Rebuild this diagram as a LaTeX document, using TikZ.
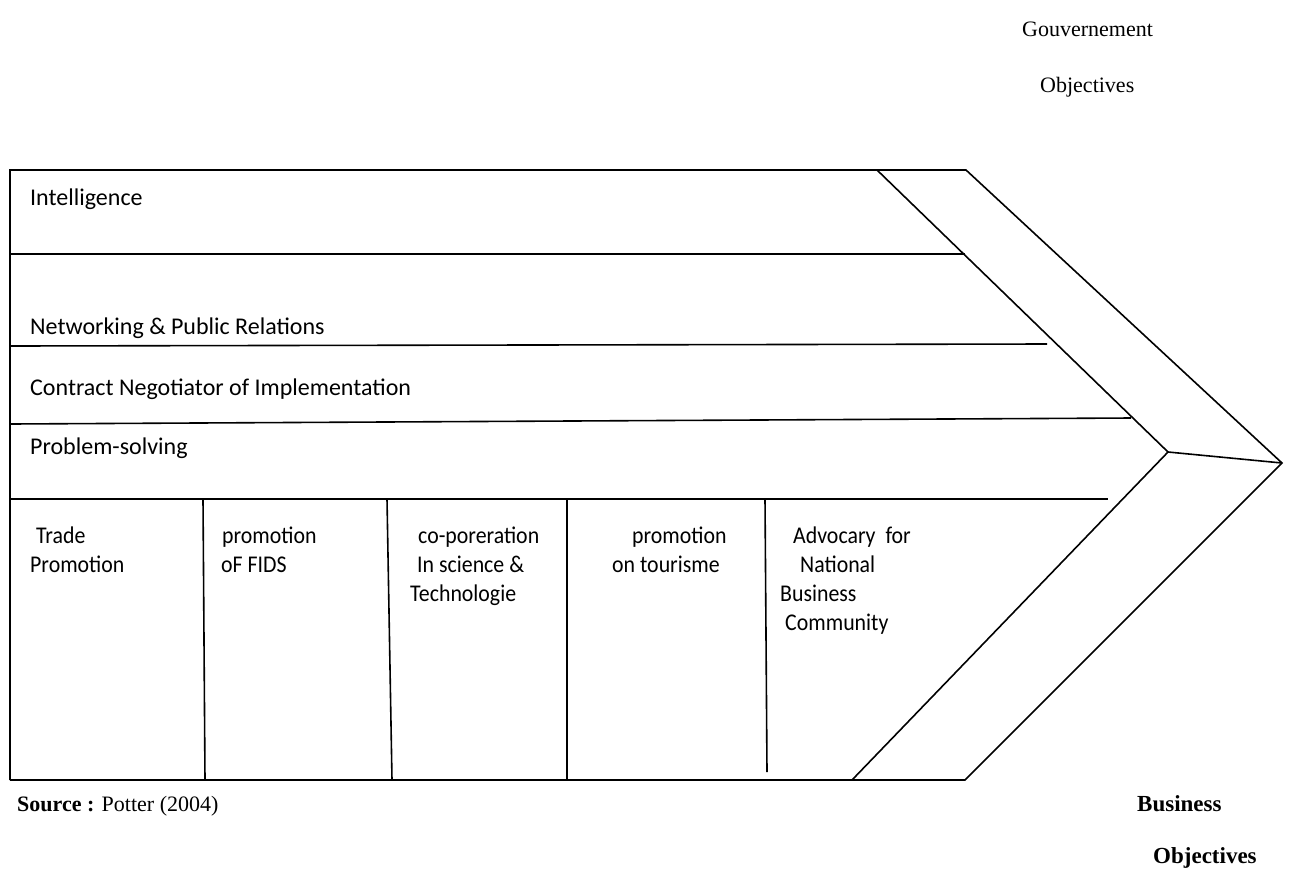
\documentclass[tikz,border=0pt]{standalone}
\usepackage{fontspec}
\setmainfont{Liberation Serif}
\newfontfamily\calibrifont{Carlito}
\newfontfamily\calibrinarrow[FakeStretch=0.91]{Carlito}
\begin{document}
\begin{tikzpicture}[x=1pt,y=-1pt,
  ln/.style={line width=1.6pt,line join=miter},
  lab/.style={anchor=base west,inner sep=0pt,font=\calibrifont\fontsize{24}{28}\selectfont},
  cell/.style={anchor=base west,inner sep=0pt,font=\calibrinarrow\fontsize{24}{28}\selectfont},
  ttl/.style={anchor=base west,inner sep=0pt,font=\fontsize{22}{26}\selectfont},
  btl/.style={anchor=base west,inner sep=0pt,font=\bfseries\fontsize{23}{27}\selectfont}]
\useasboundingbox (0,0) rectangle (1289,868);
% corner coordinates
\coordinate (tl) at (10,170);
\coordinate (bl) at (10,780);
\coordinate (itop) at (877,170);
\coordinate (otop) at (966,170);
\coordinate (ivx) at (1168,452);
\coordinate (tip) at (1282,463);
\coordinate (ibot) at (852,780);
\coordinate (obot) at (965,780);
% outer frame
\draw[ln] (bl) -- (tl) -- (otop) -- (tip) -- (obot) -- (bl);
\draw[ln] (itop) -- (ivx) -- (ibot);
\draw[ln] (ivx) -- (tip);
% horizontal lines
\coordinate (h1a) at (10,254); \coordinate (h1b) at (965,254);
\coordinate (h2a) at (10,346); \coordinate (h2b) at (1047,344);
\coordinate (h3a) at (10,424); \coordinate (h3b) at (1131,418);
\coordinate (h4a) at (10,499); \coordinate (h4b) at (1108,499);
\draw[ln] (h1a) -- (h1b);
\draw[ln] (h2a) -- (h2b);
\draw[ln] (h3a) -- (h3b);
\draw[ln] (h4a) -- (h4b);
% dividers
\coordinate (v1a) at (203,499); \coordinate (v1b) at (205,780);
\coordinate (v2a) at (387,499); \coordinate (v2b) at (392,780);
\coordinate (v3a) at (567,499); \coordinate (v3b) at (567,780);
\coordinate (v4a) at (765,499); \coordinate (v4b) at (767,772);
\draw[ln] (v1a) -- (v1b);
\draw[ln] (v2a) -- (v2b);
\draw[ln] (v3a) -- (v3b);
\draw[ln] (v4a) -- (v4b);
% row labels
\node[lab] (intel) at (30,205) {Intelligence};
\node[lab] (netw) at (30,334) {Networking \& Public Relations};
\node[lab] (contr) at (30,395) {Contract Negotiator of Implementation};
\node[lab] (probl) at (30,454) {Problem-solving};
% cell labels
\node[cell] (c1a) at (36,543) {Trade};
\node[cell] (c1b) at (30,572) {Promotion};
\node[cell] (c2a) at (222,543) {promotion};
\node[cell] (c2b) at (221,572) {oF FIDS};
\node[cell] (c3a) at (418,543) {co-poreration};
\node[cell] (c3b) at (417,572) {In science \&};
\node[cell] (c3c) at (410,601) {Technologie};
\node[cell] (c4a) at (632,543) {promotion};
\node[cell] (c4b) at (612,572) {on tourisme};
\node[cell] (c5a) at (793,543) {Advocary\ \ for};
\node[cell] (c5b) at (800,572) {National};
\node[cell] (c5c) at (780,601) {Business};
\node[cell] (c5d) at (785,630) {Community};
% titles
\node[ttl] (gov) at (1022,36) {Gouvernement};
\node[ttl] (govobj) at (1040,92) {Objectives};
\node[ttl] (src) at (17,811) {\textbf{Source :} Potter (2004)};
\node[btl] (bus) at (1137,811) {Business};
\node[btl] (busobj) at (1153,863) {Objectives};
\end{tikzpicture}
\end{document}
